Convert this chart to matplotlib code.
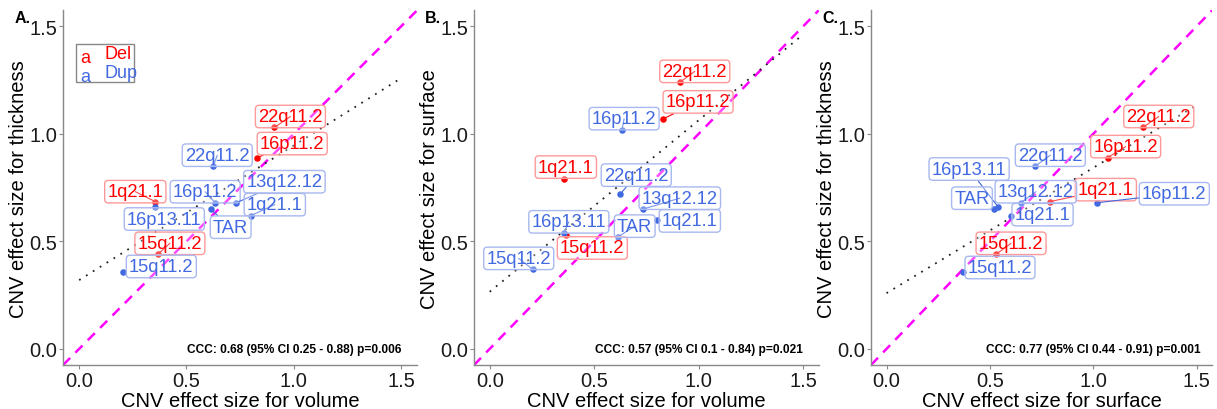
import numpy as np
import matplotlib.pyplot as plt

plt.rcParams['font.family'] = ['Liberation Sans', 'DejaVu Sans']

# CNV labels, Deletions then Duplications
cnv = ['22q11.2', '16p11.2', '1q21.1', '15q11.2',
       '22q11.2', '16p11.2', '13q12.12', '1q21.1', '16p13.11', 'TAR', '15q11.2']
cnv_type = ['Del'] * 4 + ['Dup'] * 7

# effect sizes
volume = [0.91, 0.83, 0.355, 0.367,
          0.625, 0.634, 0.733, 0.80, 0.355, 0.613, 0.206]
surface = [1.24, 1.07, 0.79, 0.53,
           0.72, 1.02, 0.65, 0.60, 0.54, 0.52, 0.37]
thickness = [1.03, 0.89, 0.685, 0.44,
             0.85, 0.68, 0.68, 0.62, 0.66, 0.65, 0.36]

ccc_text = ['CCC: 0.68 (95% CI 0.25 - 0.88) p=0.006',
            'CCC: 0.57 (95% CI 0.1 - 0.84) p=0.021',
            'CCC: 0.77 (95% CI 0.44 - 0.91) p=0.001']

# label offsets (pixels) from each point, per panel (repel layout)
offsets_a = [(16, 11), (35, 14), (-20, 10), (12, 11),
             (4, 11), (-10, 11), (48, 21), (24, 11), (9, -12), (20, -18), (38, 5)]
offsets_b = [(15, 11), (35, 17), (2, 12), (26, -13),
             (16, 19), (2, 11), (37, 11), (33, -1), (5, 11), (17, 11), (-14, 11)]
offsets_c = [(16, 11), (18, 11), (56, 12), (15, 11),
             (15, 11), (77, 9), (15, 11), (32, 1), (-29, 38), (-22, 11), (37, 4)]

colors = {'Del': '#FF0000', 'Dup': '#4169E1'}
edge = {'Del': '#FF9999', 'Dup': '#A8B8F0'}

panels = [
    ('A.', volume, thickness, 'CNV effect size for volume', 'CNV effect size for thickness', offsets_a),
    ('B.', volume, surface, 'CNV effect size for volume', 'CNV effect size for surface', offsets_b),
    ('C.', surface, thickness, 'CNV effect size for surface', 'CNV effect size for thickness', offsets_c),
]
positions = [[0.0518, 0.1073, 0.2909, 0.865],
             [0.3895, 0.1073, 0.2832, 0.865],
             [0.7157, 0.1073, 0.2802, 0.865]]

fig = plt.figure(figsize=(12.17, 4.10), dpi=100)

for i, (tag, xv, yv, xlab, ylab, offs) in enumerate(panels):
    ax = fig.add_axes(positions[i])
    xv = np.array(xv)
    yv = np.array(yv)
    lims = (-0.075, 1.575)
    ax.set_xlim(lims)
    ax.set_ylim(lims)

    # identity line
    ax.plot(lims, lims, color='#FF00FF', ls=(0, (4, 3)), lw=1.8, zorder=1)
    # linear fit
    slope, icpt = np.polyfit(xv, yv, 1)
    xs = np.array([0, 1.5])
    ax.plot(xs, icpt + slope * xs, color='#222222', ls=(0, (1, 3.5)), lw=1.3, zorder=2)

    for j in range(len(cnv)):
        c = colors[cnv_type[j]]
        ax.scatter(xv[j], yv[j], s=22, color=c, zorder=3, linewidths=0)
        ax.annotate(cnv[j], (xv[j], yv[j]), xytext=offs[j], textcoords='offset pixels',
                    ha='center', va='center', fontsize=13.2, color=c, zorder=4,
                    bbox=dict(boxstyle='round,pad=0.15,rounding_size=0.2',
                              fc=(1, 1, 1, 0.3), ec=edge[cnv_type[j]], lw=1.0),
                    arrowprops=dict(arrowstyle='-', color=c, lw=0.8,
                                    shrinkA=0, shrinkB=2))

    ax.text(1.0, 0.0, ccc_text[i], ha='center', va='center',
            fontsize=8.6, fontweight='bold')

    ax.set_xticks([0, 0.5, 1.0, 1.5])
    ax.set_yticks([0, 0.5, 1.0, 1.5])
    ax.set_xticklabels(['0.0', '0.5', '1.0', '1.5'])
    ax.set_yticklabels(['0.0', '0.5', '1.0', '1.5'])
    ax.tick_params(labelsize=14.5, length=3, width=0.8, color='#888888', pad=1,
                   labelcolor='#1a1a1a')
    ax.set_xlabel(xlab, fontsize=14.5, labelpad=1)
    ax.set_ylabel(ylab, fontsize=14.5, labelpad=1)
    for s in ['top', 'right']:
        ax.spines[s].set_visible(False)
    for s in ['left', 'bottom']:
        ax.spines[s].set_color('#888888')
        ax.spines[s].set_linewidth(1.0)

    fig.text(positions[i][0] - 0.040, 0.955, tag, fontsize=11.5, fontweight='bold',
             ha='left', va='center')

    if i == 0:
        # legend with text keys
        ax.add_patch(plt.Rectangle((0.037, 0.797), 0.163, 0.107, transform=ax.transAxes,
                                   fc='white', ec='#888888', lw=1.0, zorder=5))
        for k, (lab, yy) in enumerate([('Del', 0.874), ('Dup', 0.822)]):
            ax.text(0.062, yy - 0.008, 'a', transform=ax.transAxes, color=colors[lab],
                    fontsize=13, ha='center', va='center', zorder=6)
            ax.text(0.116, yy + 0.004, lab, transform=ax.transAxes, color=colors[lab],
                    fontsize=13, ha='left', va='center', zorder=6)

fig.savefig('out.png', dpi=100)
